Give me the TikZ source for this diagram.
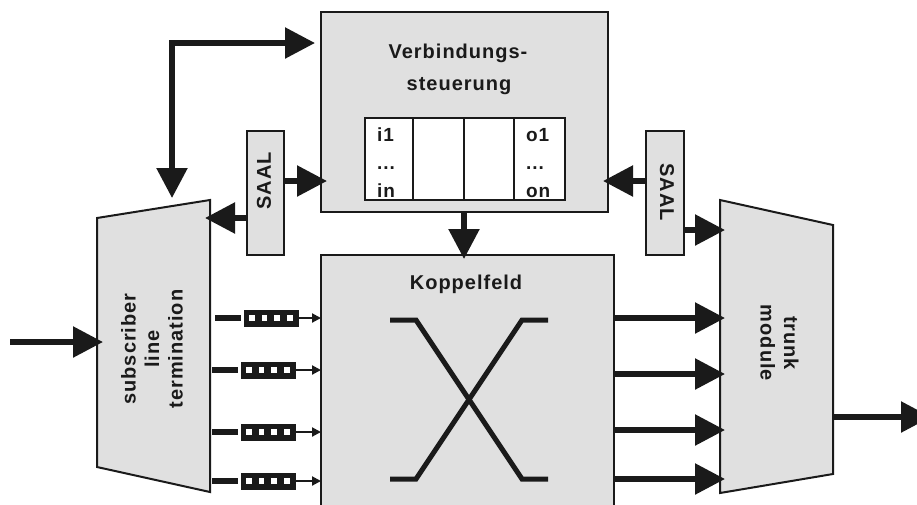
\documentclass[tikz,border=0pt]{standalone}
\usepackage{fontspec}
\setmainfont{Liberation Sans}[LetterSpace=5.0]
\usetikzlibrary{arrows.meta}
\definecolor{boxfill}{RGB}{224,224,224}
\definecolor{ink}{RGB}{26,26,26}
\begin{document}
\begin{tikzpicture}[x=1pt,y=-1pt,
  box/.style={draw=ink, line width=2pt, fill=boxfill, inner sep=0pt},
  bigarrow/.style={draw=ink, line width=5.5pt, -{Triangle[length=30pt,width=30pt]}},
  botharrow/.style={draw=ink, line width=5.5pt, {Triangle[length=30pt,width=30pt]}-{Triangle[length=30pt,width=30pt]}},
  smallarrow/.style={draw=ink, line width=2pt, -{Triangle[length=9pt,width=9pt]}},
  lbl/.style={font=\bfseries\fontsize{20}{23.5}\selectfont, text=ink, inner sep=0pt, align=center},
  tbl/.style={font=\bfseries\fontsize{19}{28}\selectfont, text=ink, inner sep=0pt, anchor=base west},
  xline/.style={draw=ink, line width=5pt},
  stub/.style={draw=ink, line width=5.5pt},
  qbox/.style={fill=ink},
  qcell/.style={fill=white},
]
\useasboundingbox (0,0) rectangle (917,504);
\clip (0,0) rectangle (917,504);

% --- main boxes
\node[box, minimum width=287pt, minimum height=200pt] (vs) at (464.5,112) {};
\node[box, minimum width=293pt, minimum height=275pt] (kf) at (467.5,392.5) {};
\node[box, minimum width=37pt, minimum height=124pt] (saalL) at (265.5,193) {};
\node[box, minimum width=38pt, minimum height=124pt] (saalR) at (665,193) {};

% trapezoids
\draw[box] (97,218) coordinate (sltTL) -- (210,200) coordinate (sltTR) -- (210,492) coordinate (sltBR) -- (97,467) coordinate (sltBL) -- cycle;
\draw[box] (720,200) coordinate (tmTL) -- (833,225) coordinate (tmTR) -- (833,474) coordinate (tmBR) -- (720,493) coordinate (tmBL) -- cycle;

% --- table inside Verbindungssteuerung
\draw[draw=ink, line width=2pt, fill=white] (365,118) rectangle (565,200);
\draw[draw=ink, line width=2pt] (413,118) -- (413,200) (464,118) -- (464,200) (514,118) -- (514,200);
\node[tbl] (ti1) at (377,141) {i1};
\node[tbl] (ti2) at (377,169) {...};
\node[tbl] (ti3) at (377,197) {in};
\node[tbl] (to1) at (526,141) {o1};
\node[tbl] (to2) at (526,169) {...};
\node[tbl] (to3) at (526,197) {on};

% --- labels
\node[lbl, anchor=base] (vt1) at (458,58) {Verbindungs-};
\node[lbl, anchor=base] (vt2) at (459,90) {steuerung};
\node[lbl, anchor=base] (kt) at (466,289) {Koppelfeld};
\node[lbl, rotate=90] (sl) at (264,181) {SAAL};
\node[lbl, rotate=-90] (sr) at (667,192) {SAAL};
\node[lbl, rotate=90] (slt) at (152,349) {subscriber\\line\\termination};
\node[lbl, rotate=-90] (tm) at (779.5,343) {trunk\\module};

% --- crossing symbol
\draw[xline] (390,320) -- (416,320) -- (522,479) -- (548,479);
\draw[xline] (390,479) -- (416,479) -- (522,320) -- (548,320);

% --- connector coordinates
\coordinate (cA) at (172,198);
\coordinate (cB) at (315,43);
\coordinate (sLo1) at (284,181);
\coordinate (vsI1) at (327,181);
\coordinate (sLo2) at (247,218);
\coordinate (sltI) at (205,218);
\coordinate (vsO) at (464,212);
\coordinate (kfI) at (464,259);
\coordinate (sRo1) at (646,181);
\coordinate (vsI2) at (603,181);
\coordinate (sRo2) at (684,230);
\coordinate (tmI0) at (725,230);
\coordinate (inS) at (10,342);
\coordinate (inE) at (103,342);
\coordinate (outS) at (833,417);
\coordinate (outE) at (931,417);

\draw[botharrow] (cA) |- (cB);
\draw[bigarrow] (sLo1) -- (vsI1);
\draw[bigarrow] (sLo2) -- (sltI);
\draw[bigarrow] (vsO) -- (kfI);
\draw[bigarrow] (sRo1) -- (vsI2);
\draw[bigarrow] (sRo2) -- (tmI0);
\draw[bigarrow] (inS) -- (inE);
\draw[bigarrow] (outS) -- (outE);

% Koppelfeld -> trunk module
\foreach \yy [count=\i] in {318,374,430,479} {
  \coordinate (kfO\i) at (614,\yy);
  \coordinate (tmI\i) at (725,\yy);
  \draw[bigarrow] (kfO\i) -- (tmI\i);
}

% queues from subscriber line termination into Koppelfeld
\foreach \xx/\yy [count=\i] in {215/318, 212/370, 212/432, 212/481} {
  \coordinate (qs\i) at (\xx,\yy);
  \coordinate (qe\i) at (\xx+26,\yy);
  \draw[stub] (qs\i) -- (qe\i);
  \fill[qbox] (\xx+29,\yy-8.5) rectangle (\xx+84,\yy+8.5);
  \foreach \k in {0,1,2,3} {
    \fill[qcell] (\xx+34+\k*12.7,\yy-3) rectangle (\xx+39.5+\k*12.7,\yy+3);
  }
  \coordinate (qo\i) at (\xx+84,\yy);
  \coordinate (qk\i) at (321,\yy);
  \draw[smallarrow] (qo\i) -- (qk\i);
}
\end{tikzpicture}
\end{document}
